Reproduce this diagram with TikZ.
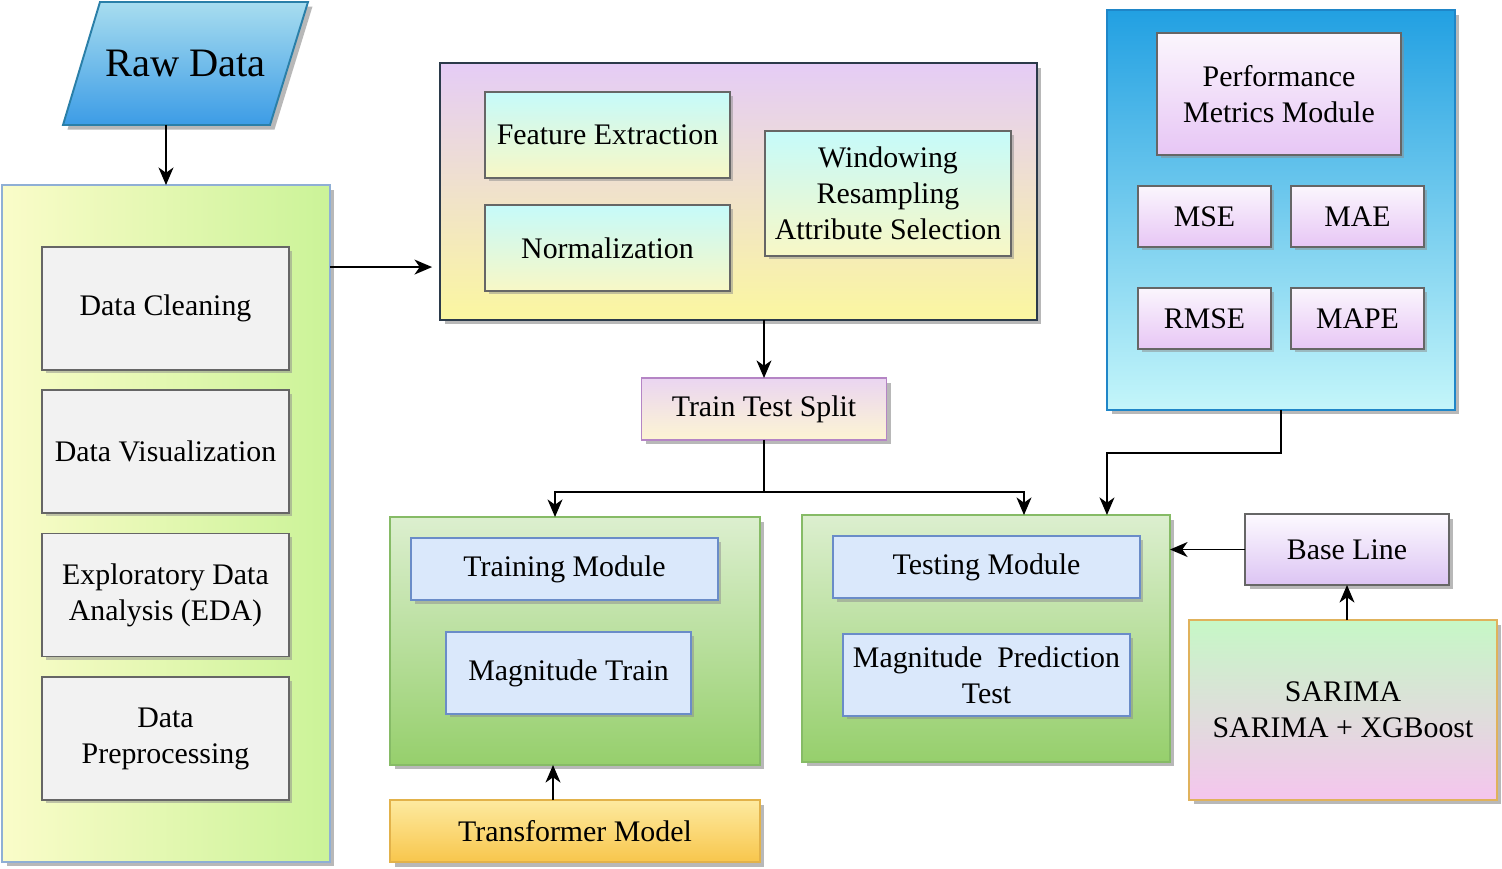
\documentclass[tikz,border=0pt]{standalone}
\usepackage{fontspec}
\setmainfont{Liberation Serif}
\usepackage{tikz}
\usetikzlibrary{arrows.meta, shadows, calc}

\definecolor{rawtop}{HTML}{A8DDEF}
\definecolor{rawbot}{HTML}{3C9CE6}
\definecolor{rawedge}{HTML}{2A7FA8}
\definecolor{prepleft}{HTML}{FAFCC9}
\definecolor{prepright}{HTML}{CBF398}
\definecolor{prepedge}{HTML}{8FAFD5}
\definecolor{cleanfill}{HTML}{F2F2F2}
\definecolor{feattop}{HTML}{E5CCF6}
\definecolor{featbot}{HTML}{FBF7A0}
\definecolor{featedge}{HTML}{2B3A4A}
\definecolor{cyantop}{HTML}{C6FAFA}
\definecolor{cyanbot}{HTML}{F8F8C6}
\definecolor{splittop}{HTML}{EAD5F1}
\definecolor{splitbot}{HTML}{FDF5D3}
\definecolor{splitedge}{HTML}{B585C5}
\definecolor{perftop}{HTML}{22A0E2}
\definecolor{perfbot}{HTML}{C4F6FA}
\definecolor{perfedge}{HTML}{1F86C8}
\definecolor{metrictop}{HTML}{FBF6FD}
\definecolor{metricbot}{HTML}{E7C6F5}
\definecolor{greentop}{HTML}{DCEFCF}
\definecolor{greenbot}{HTML}{96CF6C}
\definecolor{greenedge}{HTML}{86BB66}
\definecolor{modfill}{HTML}{DAE8FB}
\definecolor{modedge}{HTML}{6A8CC8}
\definecolor{transtop}{HTML}{FDEAA0}
\definecolor{transbot}{HTML}{F8C64C}
\definecolor{transedge}{HTML}{E2B24A}
\definecolor{basetop}{HTML}{FDFAFF}
\definecolor{basebot}{HTML}{DCC4F3}
\definecolor{sartop}{HTML}{C6F8C6}
\definecolor{sarbot}{HTML}{F5C5EE}
\definecolor{saredge}{HTML}{E0B25C}

\tikzset{
  outerbox/.style={
    draw, line width=1.1pt, align=center, outer sep=0pt,
    font=\fontsize{17}{20.5}\selectfont,
    drop shadow={shadow xshift=0.09cm, shadow yshift=-0.09cm, fill=black!55}
  },
  innerbox/.style={
    draw=black!60, line width=0.9pt, align=center, outer sep=0pt,
    font=\fontsize{17}{20.5}\selectfont,
    drop shadow={shadow xshift=0.07cm, shadow yshift=-0.07cm, fill=black!45}
  },
  rawshape/.style={
    draw=rawedge, line width=1.1pt, top color=rawtop, bottom color=rawbot,
    drop shadow={shadow xshift=0.09cm, shadow yshift=-0.09cm, fill=black!55}
  },
  flowarrow/.style={
    -{Stealth[length=10pt, width=8.5pt, inset=3pt]}, line width=1.1pt
  },
}

\begin{document}
\begin{tikzpicture}[x=0.02cm, y=-0.02cm]
  \useasboundingbox[fill=white] (0,0) rectangle (1502,869);

  % Raw data
  \coordinate (rawc) at (185.5,63.5);
  \path[rawshape] ($(rawc)+(-122.5,61.5)$) -- ($(rawc)+(84.5,61.5)$)
    -- ($(rawc)+(122.5,-61.5)$) -- ($(rawc)+(-85.5,-61.5)$) -- cycle;
  \node[minimum width=4.16cm, minimum height=2.46cm, outer sep=0pt,
    font=\fontsize{23}{26}\selectfont] (raw) at (rawc) {Raw Data};

  % Preprocessing column
  \node[outerbox, draw=prepedge, left color=prepleft, right color=prepright,
    minimum width=6.56cm, minimum height=13.54cm] (prep) at (166,523.5) {};
  \node[innerbox, fill=cleanfill, minimum width=4.94cm, minimum height=2.46cm]
    (clean) at (165.5,308.5) {Data Cleaning};
  \node[innerbox, fill=cleanfill, minimum width=4.94cm, minimum height=2.46cm]
    (visual) at (165.5,451.5) {Data Visualization};
  \node[innerbox, fill=cleanfill, minimum width=4.94cm, minimum height=2.46cm]
    (eda) at (165.5,595) {Exploratory Data\\Analysis (EDA)};
  \node[innerbox, fill=cleanfill, minimum width=4.94cm, minimum height=2.46cm]
    (preproc) at (165.5,738.5) {Data\\Preprocessing};

  % Feature block
  \node[outerbox, draw=featedge, top color=feattop, bottom color=featbot,
    minimum width=11.94cm, minimum height=5.14cm] (feat) at (738.5,191.5) {};
  \node[innerbox, top color=cyantop, bottom color=cyanbot,
    minimum width=4.9cm, minimum height=1.72cm] (fext) at (607.5,135) {Feature Extraction};
  \node[innerbox, top color=cyantop, bottom color=cyanbot,
    minimum width=4.9cm, minimum height=1.72cm] (norm) at (607.5,248) {Normalization};
  \node[innerbox, top color=cyantop, bottom color=cyanbot,
    minimum width=4.92cm, minimum height=2.5cm] (wind) at (888,193.5)
    {Windowing\\Resampling\\Attribute Selection};

  % Split
  \node[outerbox, draw=splitedge, top color=splittop, bottom color=splitbot,
    minimum width=4.9cm, minimum height=1.24cm] (tts) at (764,409) {Train Test Split};

  % Performance metrics
  \node[outerbox, draw=perfedge, top color=perftop, bottom color=perfbot,
    minimum width=6.96cm, minimum height=8cm] (perf) at (1281,210) {};
  \node[innerbox, top color=metrictop, bottom color=metricbot,
    minimum width=4.88cm, minimum height=2.44cm] (pmm) at (1279,94)
    {Performance\\Metrics Module};
  \node[innerbox, top color=metrictop, bottom color=metricbot,
    minimum width=2.66cm, minimum height=1.22cm] (mse) at (1204.5,216.5) {MSE};
  \node[innerbox, top color=metrictop, bottom color=metricbot,
    minimum width=2.66cm, minimum height=1.22cm] (mae) at (1357.5,216.5) {MAE};
  \node[innerbox, top color=metrictop, bottom color=metricbot,
    minimum width=2.66cm, minimum height=1.22cm] (rmse) at (1204.5,318.5) {RMSE};
  \node[innerbox, top color=metrictop, bottom color=metricbot,
    minimum width=2.66cm, minimum height=1.22cm] (mape) at (1357.5,318.5) {MAPE};

  % Training
  \node[outerbox, draw=greenedge, top color=greentop, bottom color=greenbot,
    minimum width=7.4cm, minimum height=4.96cm] (train) at (575,641) {};
  \node[innerbox, draw=modedge, fill=modfill,
    minimum width=6.14cm, minimum height=1.24cm] (trmod) at (564.5,569) {Training Module};
  \node[innerbox, draw=modedge, fill=modfill,
    minimum width=4.9cm, minimum height=1.64cm] (mtrain) at (568.5,673) {Magnitude Train};

  % Testing
  \node[outerbox, draw=greenedge, top color=greentop, bottom color=greenbot,
    minimum width=7.36cm, minimum height=4.94cm] (test) at (986,638.5) {};
  \node[innerbox, draw=modedge, fill=modfill,
    minimum width=6.14cm, minimum height=1.24cm] (tsmod) at (986.5,567) {Testing Module};
  \node[innerbox, draw=modedge, fill=modfill,
    minimum width=5.74cm, minimum height=1.64cm] (mpred) at (986.5,675)
    {Magnitude~~Prediction\\Test};

  % Models
  \node[outerbox, draw=transedge, top color=transtop, bottom color=transbot,
    minimum width=7.4cm, minimum height=1.24cm] (trans) at (575,831) {Transformer Model};
  \node[outerbox, draw=black!60, top color=basetop, bottom color=basebot,
    minimum width=4.08cm, minimum height=1.42cm] (base) at (1347,549.5) {Base Line};
  \node[outerbox, draw=saredge, top color=sartop, bottom color=sarbot,
    minimum width=6.16cm, minimum height=3.6cm] (sarima) at (1343,710)
    {SARIMA\\SARIMA + XGBoost};

  % Connectors
  \draw[flowarrow] (prep.north |- raw.south) -- (prep.north);
  \coordinate (pout) at ([yshift=5.13cm]prep.east);
  \draw[flowarrow, shorten >=0.16cm] (pout) -- (pout -| feat.west);
  \draw[flowarrow] (feat.south -| tts.north) -- (tts.north);
  \coordinate (fork) at ([yshift=-1.04cm]tts.south);
  \draw[line width=1.1pt] (tts.south) -- (fork);
  \draw[flowarrow] (fork) -| ([xshift=-0.4cm]train.north);
  \draw[flowarrow] (fork) -| ([xshift=0.76cm]test.north);
  \draw[flowarrow] (perf.south) -- ++(0,-0.86cm) -| ([xshift=2.42cm]test.north);
  \draw[flowarrow] (base.west) -- (base.west -| test.east);
  \draw[flowarrow] (base.south |- sarima.north) -- (base.south);
  \draw[flowarrow] ([xshift=-0.44cm]trans.north) -- ([xshift=-0.44cm]train.south);
\end{tikzpicture}
\end{document}
